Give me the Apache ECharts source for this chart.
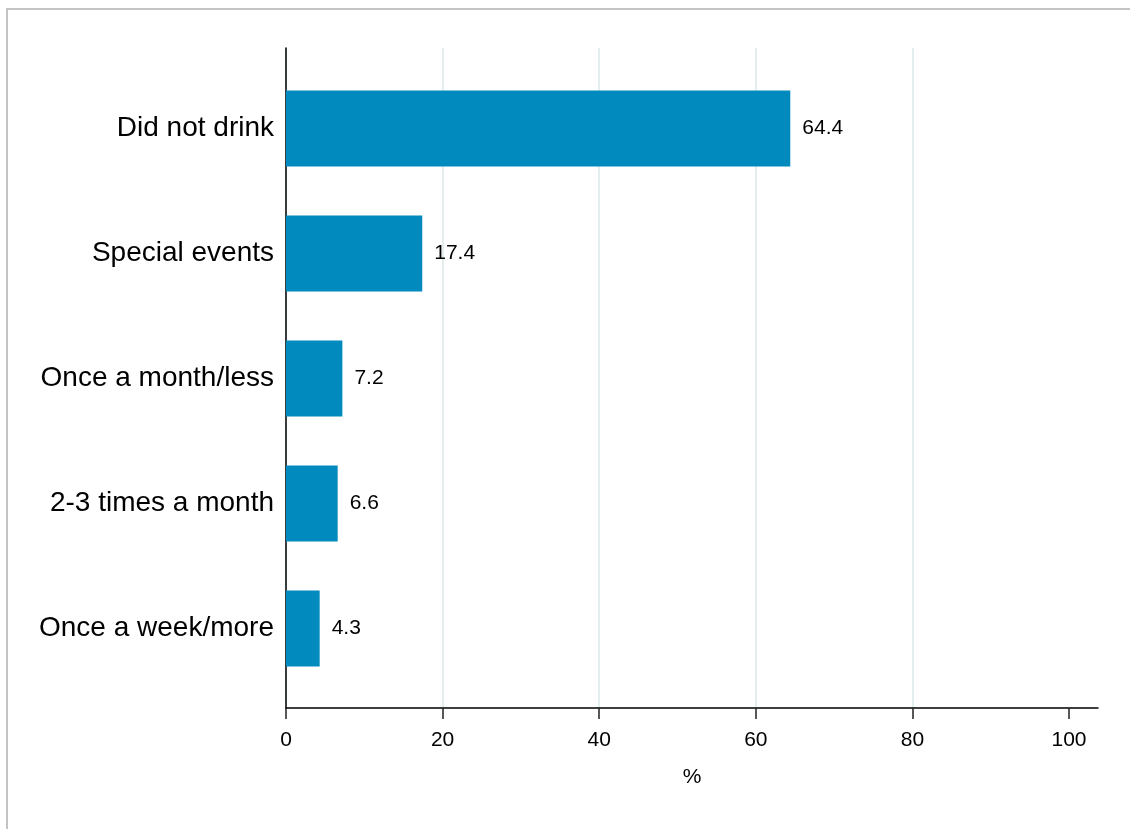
<!DOCTYPE html>
<html>
<head>
<meta charset="utf-8">
<style>
  html, body { margin: 0; padding: 0; background: #fff; }
  #frame { position: absolute; left: 6px; top: 8px; width: 1200px; height: 900px;
           border-left: 2px solid #c4c4c4; border-top: 2px solid #c4c4c4; }
  #chart { position: absolute; left: 0; top: 0; width: 1130px; height: 829px; }
</style>
<script src="https://cdn.jsdelivr.net/npm/echarts@6/dist/echarts.min.js"></script>
</head>
<body>
<div id="frame"></div>
<div id="chart"></div>
<script>
// data
const categories = ['Did not drink', 'Special events', 'Once a month/less', '2-3 times a month', 'Once a week/more']
const values = [64.4, 17.4, 7.2, 6.6, 4.3]
const xTicks = [0, 20, 40, 60, 80, 100]

const font = 'Liberation Sans, Arial, sans-serif'
const xMax = 103.7
const chart = echarts.init(document.getElementById('chart'))

// grid 0 holds the bars, grid 1 draws the axes frame (a bit taller than the bars' band)
const option = {
  animation: false,
  grid: [
    { left: 286, right: 32, top: 66, bottom: 138 },
    { left: 286, right: 32, top: 48, bottom: 121 }
  ],
  xAxis: [
    {
      gridIndex: 0, type: 'value', min: 0, max: xMax,
      axisLine: { show: false }, axisTick: { show: false },
      axisLabel: { show: false }, splitLine: { show: false }
    },
    {
      gridIndex: 1, type: 'value', min: 0, max: xMax,
      name: '%',
      nameLocation: 'middle',
      nameGap: 59,
      nameTextStyle: { color: '#000', fontSize: 21, fontFamily: font },
      axisLine: { show: true, lineStyle: { color: '#000', width: 1.5 } },
      axisTick: { show: true, length: 11, customValues: xTicks, lineStyle: { color: '#222', width: 1.5 } },
      axisLabel: { customValues: xTicks, margin: 22, color: '#000', fontSize: 21, fontFamily: font },
      splitLine: {
        show: true,
        // no gridline at 100
        lineStyle: { width: 2, color: ['#e4eeef', '#e4eeef', '#e4eeef', '#e4eeef', '#e4eeef', 'rgba(0,0,0,0)'] }
      }
    }
  ],
  yAxis: [
    {
      gridIndex: 0,
      type: 'category',
      inverse: true,
      data: categories,
      axisLine: { show: false },
      axisTick: { show: false },
      splitLine: { show: false },
      axisLabel: { margin: 12, color: '#000', fontSize: 28, fontFamily: font }
    },
    {
      gridIndex: 1,
      type: 'value',
      axisLine: { show: true, lineStyle: { color: '#000', width: 1.5 } },
      axisTick: { show: false },
      axisLabel: { show: false },
      splitLine: { show: false }
    }
  ],
  series: [{
    type: 'bar',
    xAxisIndex: 0,
    yAxisIndex: 0,
    z: 3,
    barWidth: 76,
    data: values,
    itemStyle: { color: '#008abd' },
    label: {
      show: true,
      position: 'right',
      distance: 12,
      color: '#000',
      fontSize: 21,
      fontFamily: font,
      formatter: p => p.value.toFixed(1)
    }
  }]
}
chart.setOption(option)
</script>
</body>
</html>
